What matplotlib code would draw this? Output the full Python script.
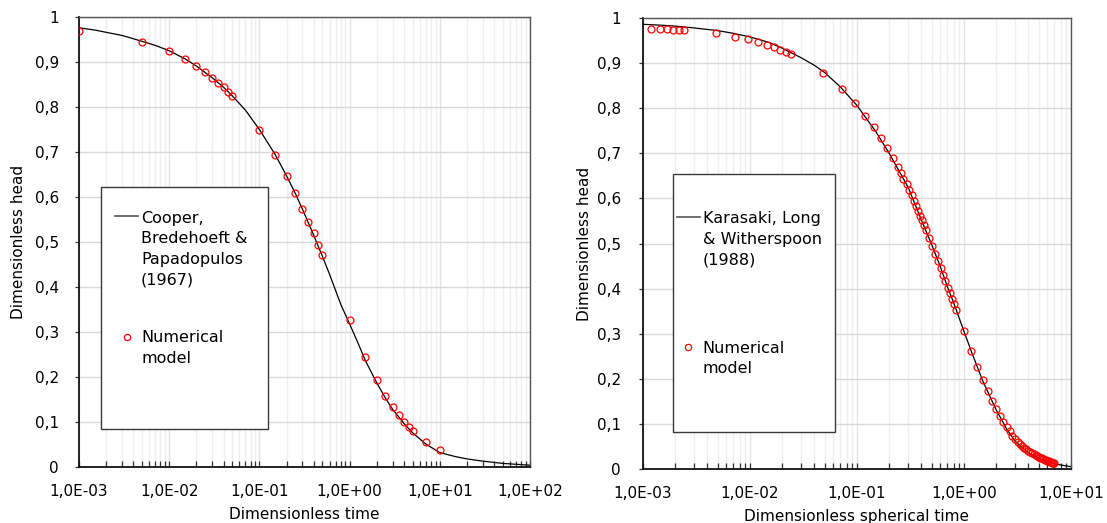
import matplotlib
matplotlib.use("Agg")
import matplotlib.pyplot as plt
from matplotlib.ticker import LogLocator, NullFormatter
from matplotlib.patches import Rectangle
from matplotlib.lines import Line2D

plt.rcParams['font.family'] = ['DejaVu Sans']

# ---------------- data: left panel ----------------
cbp_t = [0.001, 0.0015, 0.002, 0.003, 0.005, 0.007, 0.01, 0.015, 0.02, 0.03, 0.04, 0.05, 0.07,
         0.1, 0.15, 0.2, 0.25, 0.3, 0.4, 0.5, 0.6, 0.7, 0.8, 1.0, 1.2, 1.5, 2.0, 2.5, 3.0,
         4.0, 5.0, 7.0, 10.0, 15.0, 20.0, 30.0, 50.0, 70.0, 100.0]
cbp_h = [0.976, 0.971, 0.966, 0.959, 0.946, 0.937, 0.925, 0.907, 0.891, 0.865, 0.844, 0.825,
         0.793, 0.750, 0.694, 0.647, 0.608, 0.573, 0.515, 0.468, 0.428, 0.392, 0.361, 0.318,
         0.282, 0.236, 0.187, 0.153, 0.128, 0.097, 0.076, 0.051, 0.032, 0.023, 0.018,
         0.013, 0.008, 0.006, 0.004]

numL_t = [0.001, 0.005, 0.01, 0.015, 0.02, 0.025, 0.03, 0.035, 0.04, 0.045, 0.05, 0.1, 0.15,
          0.2, 0.25, 0.3, 0.35, 0.4, 0.45, 0.5, 1.0, 1.5, 2.0, 2.5, 3.0, 3.5, 4.0, 4.5, 5.0,
          7.0, 10.0]
numL_h = [0.970, 0.945, 0.924, 0.906, 0.891, 0.878, 0.864, 0.854, 0.844, 0.833, 0.824, 0.749,
          0.693, 0.647, 0.608, 0.574, 0.545, 0.519, 0.494, 0.472, 0.326, 0.245, 0.194, 0.158,
          0.134, 0.115, 0.101, 0.089, 0.079, 0.056, 0.038]

# ---------------- data: right panel ----------------
klw_t = [0.001, 0.0015, 0.002, 0.003, 0.005, 0.007, 0.01, 0.015, 0.02, 0.03, 0.04, 0.05, 0.07,
         0.1, 0.15, 0.2, 0.3, 0.4, 0.5, 0.6, 0.7, 0.8, 1.0, 1.2, 1.5, 2.0, 2.5, 3.0, 3.5, 4.0,
         5.0, 6.0, 7.0, 8.0, 10.0]
klw_h = [0.986, 0.984, 0.982, 0.978, 0.972, 0.966, 0.958, 0.946, 0.933, 0.912, 0.895, 0.879,
         0.847, 0.806, 0.748, 0.700, 0.625, 0.552, 0.497, 0.449, 0.404, 0.369, 0.305, 0.254,
         0.195, 0.131, 0.089, 0.062, 0.047, 0.036, 0.024, 0.016, 0.012, 0.009, 0.005]

numR_t = [0.0012, 0.00144, 0.00168, 0.00192, 0.00216, 0.0024, 0.0048, 0.0072, 0.0096, 0.012,
          0.0144, 0.0168, 0.0192, 0.0216, 0.024, 0.048, 0.072, 0.096, 0.12, 0.144, 0.168,
          0.192, 0.215, 0.24, 0.258, 0.271, 0.291, 0.308, 0.324, 0.339, 0.356, 0.374, 0.388,
          0.402, 0.423, 0.441, 0.474, 0.504, 0.538, 0.568, 0.605, 0.637, 0.665, 0.704, 0.745,
          0.778, 0.812, 0.842, 1.0, 1.17, 1.33, 1.5, 1.67, 1.83, 2.0, 2.17, 2.33, 2.5, 2.67,
          2.83, 3.0, 3.17, 3.33, 3.5, 3.67, 3.83, 4.0, 4.17, 4.33, 4.5, 4.67, 4.83, 5.0, 5.17,
          5.33, 5.5, 5.67, 5.83, 6.0, 6.17, 6.33, 6.5, 6.67, 6.83, 7.0]
numR_h = [0.976, 0.976, 0.975, 0.974, 0.974, 0.973, 0.966, 0.958, 0.953, 0.946, 0.940, 0.935,
          0.930, 0.924, 0.920, 0.877, 0.843, 0.812, 0.783, 0.758, 0.734, 0.711, 0.690, 0.670,
          0.656, 0.643, 0.631, 0.619, 0.608, 0.595, 0.583, 0.572, 0.561, 0.551, 0.540, 0.531,
          0.513, 0.495, 0.477, 0.461, 0.446, 0.431, 0.416, 0.402, 0.390, 0.377, 0.365, 0.353,
          0.305, 0.262, 0.227, 0.197, 0.172, 0.151, 0.133, 0.118, 0.105, 0.094, 0.084, 0.074,
          0.066, 0.060, 0.055, 0.050, 0.047, 0.044, 0.041, 0.038, 0.036, 0.033, 0.031, 0.029,
          0.027, 0.025, 0.024, 0.022, 0.021, 0.020, 0.018, 0.017, 0.016, 0.0155, 0.014, 0.013,
          0.0125]

# ---------------- ticks / labels ----------------
y_ticks = [0, 0.1, 0.2, 0.3, 0.4, 0.5, 0.6, 0.7, 0.8, 0.9, 1.0]
y_tick_labels = ['0', '0,1', '0,2', '0,3', '0,4', '0,5', '0,6', '0,7', '0,8', '0,9', '1']
xL_ticks = [1e-3, 1e-2, 1e-1, 1e0, 1e1, 1e2]
xL_labels = ['1,0E-03', '1,0E-02', '1,0E-01', '1,0E+00', '1,0E+01', '1,0E+02']
xR_ticks = [1e-3, 1e-2, 1e-1, 1e0, 1e1]
xR_labels = ['1,0E-03', '1,0E-02', '1,0E-01', '1,0E+00', '1,0E+01']

y_label = 'Dimensionless head'
xL_label = 'Dimensionless time'
xR_label = 'Dimensionless spherical time'
legL_line = 'Cooper,\nBredehoeft &\nPapadopulos\n(1967)'
legR_line = 'Karasaki, Long\n& Witherspoon\n(1988)'
leg_num = 'Numerical\nmodel'

W, H = 1107, 523
fig = plt.figure(figsize=(W / 100, H / 100), dpi=100)
axL = fig.add_axes([79 / W, 1 - 467 / H, 451 / W, 450 / H])
axR = fig.add_axes([643 / W, 1 - 469 / H, 428 / W, 451 / H])


def style(ax, xticks, xlabels, xlabel, ypad):
    ax.set_xscale('log')
    ax.set_xlim(xticks[0], xticks[-1])
    ax.set_ylim(0, 1)
    ax.set_yticks(y_ticks)
    ax.set_yticklabels(y_tick_labels)
    ax.set_xticks(xticks)
    ax.set_xticklabels(xlabels)
    ax.xaxis.set_minor_locator(LogLocator(base=10, subs=range(2, 10), numticks=100))
    ax.xaxis.set_minor_formatter(NullFormatter())
    ax.grid(True, which='major', axis='y', color='#d9d9d9', lw=1.0)
    ax.grid(True, which='major', axis='x', color='#e4e4e4', lw=1.0)
    ax.grid(True, which='minor', axis='x', color='#efefef', lw=1.0)
    ax.set_axisbelow(True)
    ax.tick_params(axis='x', which='both', direction='in', length=4, width=0.9,
                   color='#333333', labelsize=11, pad=12, top=False)
    ax.tick_params(axis='y', which='major', direction='out', length=3, width=0.9,
                   color='#333333', labelsize=11, pad=ypad, right=False)
    for s in ['left', 'bottom']:
        ax.spines[s].set_color('#111111')
        ax.spines[s].set_linewidth(1.3)
    for s in ['top', 'right']:
        ax.spines[s].set_color('#555555')
        ax.spines[s].set_linewidth(1.0)
    ax.set_xlabel(xlabel, fontsize=11)
    ax.set_ylabel(y_label, fontsize=11)
    ax.xaxis.set_label_coords(0.5, -0.088)
    ax.yaxis.set_label_coords(-0.118, 0.5)


style(axL, xL_ticks, xL_labels, xL_label, 11.5)
style(axR, xR_ticks, xR_labels, xR_label, 13)

axL.plot(cbp_t, cbp_h, color='black', lw=0.9, zorder=3)
axL.plot(numL_t, numL_h, ls='none', marker='o', ms=5, mfc='none', mec='#ff0000', mew=0.9, zorder=4)
axR.plot(klw_t, klw_h, color='black', lw=0.9, zorder=3)
axR.plot(numR_t, numR_h, ls='none', marker='o', ms=5, mfc='none', mec='#ff0000', mew=0.9, zorder=4)


def legend_box(ax, box, line_x, line_y, text_x, label1, top1, mark_xy, top2):
    x0, y0, x1, y1 = box
    ax.add_patch(Rectangle((x0, y0), x1 - x0, y1 - y0, transform=ax.transAxes,
                           facecolor='white', edgecolor='#3a3a3a', lw=1.0, zorder=6))
    ax.add_line(Line2D(line_x, [line_y, line_y], transform=ax.transAxes,
                       color='#555555', lw=1.2, zorder=7))
    ax.text(text_x, top1, label1, transform=ax.transAxes, fontsize=11.5,
            va='top', ha='left', linespacing=1.45, zorder=7)
    ax.add_line(Line2D([mark_xy[0]], [mark_xy[1]], transform=ax.transAxes, ls='none',
                       marker='o', ms=4.5, mfc='none', mec='#ff0000', mew=0.9, zorder=7))
    ax.text(text_x, top2, leg_num, transform=ax.transAxes, fontsize=11.5,
            va='top', ha='left', linespacing=1.45, zorder=7)


legend_box(axL, (0.0488, 0.0844, 0.419, 0.622), [0.0798, 0.1308], 0.5578, 0.1375,
           legL_line, 0.569, (0.1057, 0.2896), 0.3038)
legend_box(axR, (0.0701, 0.082, 0.4486, 0.654), [0.0787, 0.1332], 0.558, 0.1395,
           legR_line, 0.5714, (0.1051, 0.2712), 0.2845)

fig.savefig('out.png', dpi=100)
